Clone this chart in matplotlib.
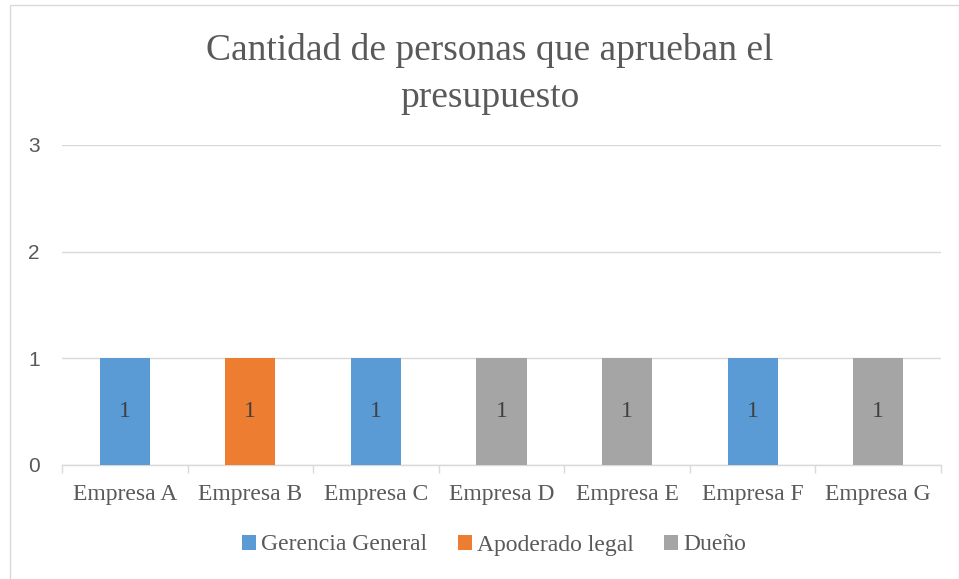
import numpy as np
import matplotlib.pyplot as plt
from matplotlib.patches import Rectangle

# Data
empresas = ["Empresa A", "Empresa B", "Empresa C", "Empresa D",
            "Empresa E", "Empresa F", "Empresa G"]
series_names = ["Gerencia General", "Apoderado legal", "Dueño"]
gerencia = [1, 0, 1, 0, 0, 1, 0]
apoderado = [0, 1, 0, 0, 0, 0, 0]
dueno = [0, 0, 0, 1, 1, 0, 1]
colors = ["#5B9BD5", "#ED7D31", "#A5A5A5"]

serif = "Liberation Serif"
text_color = "#595959"

fig = plt.figure(figsize=(9.59, 5.79), dpi=100)
# outer chart border
fig.patches.append(Rectangle((10 / 959, -0.01), 0.99, 1 - 5 / 579 + 0.01,
                             transform=fig.transFigure, fill=False,
                             edgecolor="#D9D9D9", linewidth=1))

ax = fig.add_axes([62 / 959, 1 - 465 / 579, (941 - 62) / 959, (465 - 145) / 579])

x = np.arange(len(empresas))
bottom = np.zeros(len(empresas))
for name, vals, c in zip(series_names, [gerencia, apoderado, dueno], colors):
    vals = np.array(vals)
    ax.bar(x, vals, 0.4, bottom=bottom, color=c, label=name, zorder=3)
    for xi, b, v in zip(x, bottom, vals):
        if v > 0:
            ax.text(xi, b + v / 2, str(v), ha="center", va="center",
                    fontsize=17, family=serif, color="#404040", zorder=4)
    bottom = bottom + vals

ax.set_xlim(-0.5, len(empresas) - 0.5)
ax.set_ylim(0, 3)
ax.set_yticks([0, 1, 2, 3])
ax.yaxis.grid(True, color="#D9D9D9", linewidth=1, zorder=0)
for s in ["top", "right", "left"]:
    ax.spines[s].set_visible(False)
ax.spines["bottom"].set_color("#D9D9D9")
ax.spines["bottom"].set_linewidth(1)

ax.set_xticks(x)
ax.set_xticklabels(empresas, family=serif, fontsize=17, color=text_color)
ax.tick_params(axis="x", length=0, pad=14)
ax.set_xticks(np.arange(len(empresas) + 1) - 0.5, minor=True)
ax.tick_params(axis="x", which="minor", length=6, color="#D9D9D9", width=1)
ax.tick_params(axis="y", length=0, pad=16, labelsize=15, labelcolor=text_color)
for lab in ax.get_yticklabels():
    lab.set_family("Liberation Sans")

fig.text(490 / 959, 1 - 74 / 579, "Cantidad de personas que aprueban el\npresupuesto",
         ha="center", va="center", family=serif, fontsize=27, color=text_color,
         linespacing=1.45)

ax.legend(loc="center", bbox_to_anchor=(494 / 959, 1 - 545 / 579), bbox_transform=fig.transFigure,
          ncol=3, frameon=False, prop={"family": serif, "size": 17},
          handlelength=0.6, handleheight=0.6, handletextpad=0.2, columnspacing=1.3,
          labelcolor=text_color)

fig.savefig("out.png", dpi=100)
